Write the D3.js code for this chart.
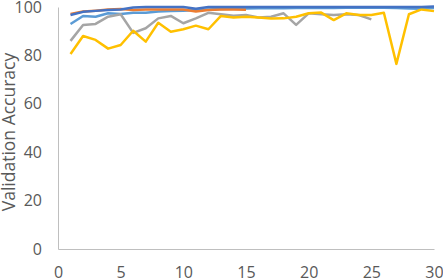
<!DOCTYPE html>
<html>
<head>
<meta charset="utf-8">
<script src="https://cdn.jsdelivr.net/npm/d3@7"></script>
<style>
  body { margin: 0; background: #fff; }
  svg text { font-family: "Open Sans", "Liberation Sans", sans-serif; fill: #595959; }
</style>
</head>
<body>
<div id="chart"></div>
<script>
// validation accuracy per epoch
const lightBlue = [93, 96.3, 96, 97.4, 97.1, 97.6, 97.6, 98.1, 98.3, 98.4, 98.8, 99, 99.2, 99.3, 99.4,
  99.5, 99.5, 99.5, 99.6, 99.6, 99.6, 99.6, 99.7, 99.7, 99.7, 99.7, 99.6, 99.4, 99.3, 99.6];
const orange = [97.1, 98.1, 98.5, 99, 99.2, 98.8, 99, 99, 99, 99, 98.1, 98.8, 99, 99, 98.9];
const gray = [86, 92.6, 93, 96, 97, 89.3, 91.2, 95.3, 96.3, 93.3, 95.3, 97.6, 97, 96.4, 96.7,
  95.7, 96, 97.4, 92.6, 97.4, 97, 96.7, 97, 96.7, 94.9];
const yellow = [80.6, 88, 86.4, 82.8, 84.3, 90.2, 85.7, 93.5, 89.8, 90.8, 92.3, 90.8, 96.3, 95.7, 96,
  95.7, 95.2, 95.3, 96, 97.4, 97.7, 94.6, 97.4, 96.7, 96.7, 97.6, 76.5, 97, 99, 98.3];
const darkBlue = [96.7, 98, 98.4, 98.8, 99, 99.8, 100, 100, 100, 100, 99.3, 100, 100, 100, 100,
  100, 100, 100, 100, 100, 100, 100, 100, 100, 100, 100, 100, 100, 100, 100.2];

const xTicks = [0, 5, 10, 15, 20, 25, 30];
const yTicks = [0, 20, 40, 60, 80, 100];

const series = [
  { name: 'lightBlue', values: lightBlue, color: '#5B9BD5' },
  { name: 'orange', values: orange, color: '#ED7D31' },
  { name: 'gray', values: gray, color: '#A5A5A5' },
  { name: 'yellow', values: yellow, color: '#FFC000' },
  { name: 'darkBlue', values: darkBlue, color: '#4472C4' }
];

const width = 443, height = 280;
const margin = { top: 7, right: 9, bottom: 31, left: 58 };

const svg = d3.select('#chart').append('svg')
  .attr('width', width)
  .attr('height', height);

const x = d3.scaleLinear().domain([0, 30]).range([margin.left, width - margin.right]);
const y = d3.scaleLinear().domain([0, 100]).range([height - margin.bottom, margin.top]);

// axes
const xAxis = svg.append('g')
  .attr('transform', `translate(0, ${y(0)})`)
  .call(d3.axisBottom(x).tickValues(xTicks).tickSize(0).tickPadding(18));
xAxis.select('.domain').attr('stroke', '#BFBFBF');
xAxis.selectAll('text').attr('font-size', 16).attr('fill', '#595959');

const yAxis = svg.append('g')
  .attr('transform', `translate(${x(0)}, 0)`)
  .call(d3.axisLeft(y).tickValues(yTicks).tickSize(0).tickPadding(16));
yAxis.select('.domain').attr('stroke', '#BFBFBF');
yAxis.selectAll('text').attr('font-size', 16).attr('fill', '#595959');

svg.append('text')
  .attr('transform', `translate(15, ${(y(0) + y(100)) / 2 + 4}) rotate(-90)`)
  .attr('text-anchor', 'middle')
  .attr('font-size', 17.5)
  .text('Validation Accuracy');

const line = d3.line()
  .x((d, i) => x(i + 1))
  .y(d => y(d));

svg.selectAll('.series')
  .data(series)
  .enter()
  .append('path')
  .attr('class', 'series')
  .attr('d', d => line(d.values))
  .attr('fill', 'none')
  .attr('stroke', d => d.color)
  .attr('stroke-width', 2.5)
  .attr('stroke-linejoin', 'round');
</script>
</body>
</html>
